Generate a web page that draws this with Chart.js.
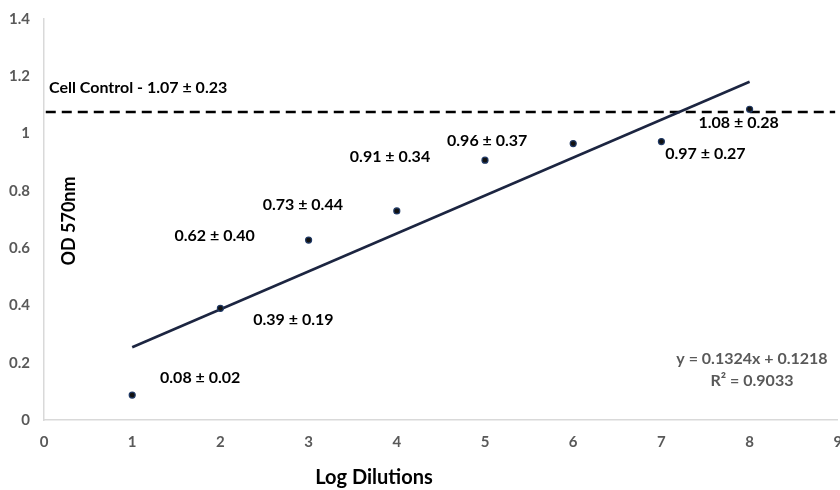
<!DOCTYPE html>
<html>
<head>
<meta charset="utf-8">
<script src="https://cdn.jsdelivr.net/npm/chart.js@4/dist/chart.umd.min.js"></script>
<style>
  html, body { margin: 0; padding: 0; background: #fff; overflow: hidden; }
  #wrap { width: 843px; height: 490px; }
</style>
</head>
<body>
<div id="wrap"><canvas id="odChart"></canvas></div>
<script>
// values
const dilutions = [1, 2, 3, 4, 5, 6, 7, 8];
const odValues = [0.087, 0.39, 0.628, 0.73, 0.907, 0.965, 0.972, 1.085];
const odLabels = ["0.08 ± 0.02", "0.39 ± 0.19", "0.62 ± 0.40", "0.73 ± 0.44",
                  "0.91 ± 0.34", "0.96 ± 0.37", "0.97 ± 0.27", "1.08 ± 0.28"];
const trendX = [1, 8];
const trendY = [0.254, 1.181];
const controlX = [0.02, 8.97];
const controlY = [1.075, 1.075];
const controlLabel = "Cell Control - 1.07 ± 0.23";
const equationLines = ["y = 0.1324x + 0.1218", "R² = 0.9033"];

const FONT = "Lato, 'Open Sans', sans-serif";

// label offsets from each point, in pixels (text centre)
const labelOffsets = [
  [68, -17], [73, 12], [-94, -4], [-94, -6],
  [-95, -3], [-86, -3], [44, 12], [-11, 14]
];

const textPlugin = {
  id: "textPlugin",
  afterDatasetsDraw(chart) {
    const ctx = chart.ctx;
    const xs = chart.scales.x;
    const ys = chart.scales.y;
    ctx.save();
    ctx.fillStyle = "#000";
    ctx.font = "bold 16px " + FONT;
    ctx.textAlign = "center";
    ctx.textBaseline = "middle";
    odLabels.forEach(function (lbl, i) {
      const px = xs.getPixelForValue(dilutions[i]) + labelOffsets[i][0];
      const py = ys.getPixelForValue(odValues[i]) + labelOffsets[i][1];
      ctx.fillText(lbl, px, py);
    });

    ctx.textAlign = "left";
    ctx.fillText(controlLabel, xs.left + 5, ys.getPixelForValue(controlY[0]) - 24);

    ctx.fillStyle = "#595959";
    ctx.textAlign = "center";
    ctx.fillText(equationLines[0], 752, 359);
    ctx.fillText(equationLines[1], 752, 381);

    // axis titles
    ctx.fillStyle = "#000";
    ctx.font = "bold 20px " + FONT;
    ctx.fillText("Log Dilutions", 374, 478);

    ctx.font = "bold 18px " + FONT;
    ctx.translate(69, 221);
    ctx.rotate(-Math.PI / 2);
    ctx.fillText("OD 570nm", 0, 0);
    ctx.restore();
  }
};

const config = {
  type: "scatter",
  data: {
    datasets: [
      {
        label: "OD",
        data: dilutions.map((x, i) => ({ x: x, y: odValues[i] })),
        backgroundColor: "#111",
        borderColor: "#1f3864",
        borderWidth: 1.2,
        pointRadius: 3,
        order: 0,
      },
      {
        label: "Trend",
        type: "line",
        data: trendX.map((x, i) => ({ x: x, y: trendY[i] })),
        borderColor: "#1c2541",
        borderWidth: 2.5,
        pointRadius: 0,
        fill: false,
        order: 1,
      },
      {
        label: "Cell Control",
        type: "line",
        data: controlX.map((x, i) => ({ x: x, y: controlY[i] })),
        borderColor: "#000",
        borderWidth: 2.5,
        borderDash: [10, 6],
        pointRadius: 0,
        fill: false,
        order: 2,
      },
    ],
  },
  options: {
    responsive: true,
    maintainAspectRatio: false,
    animation: false,
    layout: { padding: { top: 19, left: 0, right: 0, bottom: 0 } },
    scales: {
      x: {
        type: "linear",
        min: 0,
        max: 9,
        grid: { display: false, drawTicks: false },
        border: { display: true, color: "#d9d9d9", width: 1.5 },
        ticks: {
          stepSize: 1,
          padding: 13,
          color: "#595959",
          font: { family: FONT, size: 15, weight: "bold" },
        },
        afterFit(scale) {
          scale.height = 70;
          scale.paddingLeft = 0;
          scale.paddingRight = 0;
        },
      },
      y: {
        min: 0,
        max: 1.4,
        grid: { display: false, drawTicks: false },
        border: { display: true, color: "#d9d9d9", width: 1.5 },
        ticks: {
          stepSize: 0.2,
          padding: 14,
          color: "#595959",
          font: { family: FONT, size: 15, weight: "bold" },
          callback: (v) => String(Math.round(v * 10) / 10),
        },
        afterFit(scale) {
          scale.width = 44;
          scale.paddingTop = 0;
          scale.paddingBottom = 0;
        },
      },
    },
    plugins: {
      legend: { display: false },
      tooltip: { enabled: false },
    },
  },
  plugins: [textPlugin],
};

const odChart = new Chart(document.getElementById("odChart"), config);
</script>
</body>
</html>
